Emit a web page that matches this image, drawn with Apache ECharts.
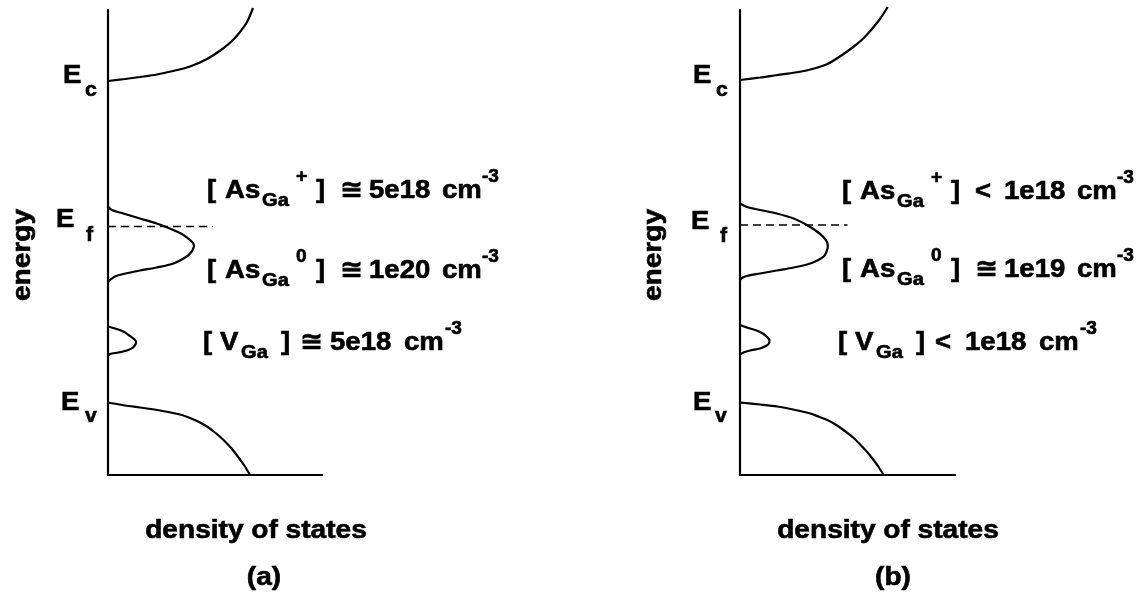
<!DOCTYPE html>
<html>
<head>
<meta charset="utf-8">
<script src="https://cdn.jsdelivr.net/npm/echarts@6/dist/echarts.min.js"></script>
<style>
html, body { margin: 0; padding: 0; background: #fff; }
#chart { width: 1144px; height: 603px; }
</style>
</head>
<body>
<div id="chart"></div>
<script>
// Density-of-states sketches for two GaAs samples, (a) and (b).
// Every curve is a list of [density, energy] pairs in arbitrary units.

const dosMax = 107;
const energyMax = 93;

// sample (a)
const conductionA = [[0, 78.8], [8.5, 79.2], [16, 79.6], [24.5, 80.1], [32.5, 80.8], [41, 81.7], [49.5, 83.2],
                     [57.5, 85.3], [62.5, 87], [66, 88.6], [69.5, 90.6], [72.5, 93.4]];
const asGaPeakA = [[0, 53.7], [1.9, 53], [7.7, 52.3], [16, 51.3], [24.4, 50.3], [32.7, 49], [37.7, 48], [41, 47],
                   [42.5, 46.4], [43, 45.8], [42.5, 45.2], [41.9, 44.7], [39.4, 43.7], [32.7, 42.3], [24.4, 41.5],
                   [16, 40.9], [7.7, 40.2], [3.5, 39.7], [1, 39], [0, 38.5]];
const vGaPeakA = [[0, 29.7], [4.3, 29.2], [7.7, 28.7], [11, 27.8], [13.5, 27], [14, 26.6], [13.7, 26.1], [12.5, 25.5],
                  [10.2, 25], [5.2, 24.5], [1, 24.2], [0, 23.8]];
const valenceA = [[0, 14.5], [8.5, 13.9], [16, 13.5], [24.5, 13], [32.5, 12.4], [37, 12], [41, 11.4], [45.5, 10.6],
                  [49.5, 9.7], [53.5, 8.5], [57.5, 7.1], [62, 5.2], [66, 3.1], [68.5, 1.7], [71, 0]];
const fermiA = [[0, 49.7], [52.5, 49.7]];

// sample (b)
const conductionB = [[0, 79], [10, 79.5], [18.5, 80], [27.5, 80.5], [35, 81.1], [43.5, 82.2], [51.5, 84.2], [56, 85.5],
                     [60, 86.8], [63.5, 88.2], [66.5, 89.6], [70, 91.4], [73.5, 93.6]];
const asGaPeakB = [[0, 54.3], [3.5, 53.6], [10, 53], [18.3, 52.3], [26.7, 51.3], [33.3, 50], [38.3, 48.7], [41.5, 47.6],
                   [43.3, 46.6], [43.7, 45.6], [43, 44.6], [41.7, 43.7], [38.5, 42.9], [35, 42.3], [26.7, 41.5],
                   [18.3, 40.9], [10, 40.3], [3.3, 39.8], [1, 39.4], [0, 39]];
const vGaPeakB = [[0, 30], [5, 29.3], [8.3, 28.9], [11.7, 28.2], [14.2, 27.3], [14.7, 26.8], [14.2, 26.2], [13.3, 25.9],
                  [10, 25.3], [5, 24.9], [1.7, 24.5], [0, 24.1]];
const valenceB = [[0, 14.5], [10, 14.1], [18.5, 13.7], [27.5, 13], [35, 12.3], [39, 11.7], [43.5, 11], [47.5, 10.1],
                  [51.5, 9], [56, 7.6], [60, 6], [63.5, 4.5], [66.5, 3], [69, 1.6], [71.5, 0]];
const fermiB = [[0, 50], [53.5, 50]];

// defect concentrations (cm^-3): AsGa+, AsGa0, VGa
const concA = ['5e18', '1e20', '5e18'];
const relA = ['\u2245', '\u2245', '\u2245'];
const concB = ['1e18', '1e19', '1e18'];
const relB = ['<', '\u2245', '<'];

const panelTags = ['(a)', '(b)'];
const axisNames = ['energy', 'density of states'];
const levelNames = ['c', 'f', 'v'];

const FONT = "'Liberation Sans', 'DejaVu Sans', Arial, sans-serif";

function txt(s, x, baseline, size, opt) {
  opt = opt || {};
  return {
    type: 'text',
    x: x,
    y: baseline - 0.35 * size,
    scaleX: opt.sx || 1.06,
    silent: true,
    style: {
      text: s,
      font: 'bold ' + size + 'px ' + FONT,
      fill: '#000',
      stroke: '#000',
      lineWidth: 0.6,
      align: opt.align || 'left',
      textAlign: opt.align || 'left',
      verticalAlign: 'middle',
      textVerticalAlign: 'middle'
    }
  };
}

// rotated (bottom-to-top) text; the baseline runs vertically at x = baseX
function vtxt(s, baseX, centerY, size) {
  return {
    type: 'text',
    x: baseX - 0.35 * size,
    y: centerY,
    rotation: Math.PI / 2,
    scaleX: 1.08,
    silent: true,
    style: {
      text: s,
      font: 'bold ' + size + 'px ' + FONT,
      fill: '#000',
      stroke: '#000',
      lineWidth: 0.6,
      align: 'center',
      textAlign: 'center',
      verticalAlign: 'middle',
      textVerticalAlign: 'middle'
    }
  };
}

const KIND = { m: [26, 0], s: [19, 7], p: [18, -17] };

function compound(x0, base, parts) {
  return parts.map(function (p) {
    const k = KIND[p[1]];
    return txt(p[0], x0 + p[2], base + k[1], k[0]);
  });
}

function asLabel(x0, base, charge, rel, val) {
  return compound(x0, base, [
    ['[', 'm', 0], ['As', 'm', 18], ['Ga', 's', 55], [charge, 'p', 89], [']', 'm', 109],
    [rel, 'm', 133], [val, 'm', 162], ['cm', 'm', 235], ['-3', 'p', 275]
  ]);
}

function vLabel(x0, base, rel, val) {
  return compound(x0, base, [
    ['[', 'm', 0], ['V', 'm', 17], ['Ga', 's', 38], [']', 'm', 78],
    [rel, 'm', 97], [val, 'm', 127], ['cm', 'm', 201], ['-3', 'p', 242]
  ]);
}

function level(xE, baseE, xSub, baseSub, sub) {
  return [txt('E', xE, baseE, 26), txt(sub, xSub, baseSub, 20)];
}

let graphics = [];
// panel (a)
graphics = graphics.concat(
  level(63, 85, 85, 97, levelNames[0]),
  level(56, 229, 86, 242, levelNames[1]),
  level(61, 412, 85, 423, levelNames[2]),
  asLabel(207, 200, '+', relA[0], concA[0]),
  asLabel(207, 280, '0', relA[1], concA[1]),
  vLabel(203, 352, relA[2], concA[2]),
  [vtxt(axisNames[0], 32, 255, 26),
   txt(axisNames[1], 256, 540, 26, { align: 'center', sx: 1.08 }),
   txt(panelTags[0], 264, 587, 26, { align: 'center', sx: 1.08 })]
);
// panel (b)
graphics = graphics.concat(
  level(693, 85, 716, 97, levelNames[0]),
  level(691, 231, 720, 243, levelNames[1]),
  level(693, 412, 715, 423, levelNames[2]),
  asLabel(842, 201, '+', relB[0], concB[0]),
  asLabel(842, 279, '0', relB[1], concB[1]),
  vLabel(838, 352, relB[2], concB[2]),
  [vtxt(axisNames[0], 663, 255, 26),
   txt(axisNames[1], 888, 540, 26, { align: 'center', sx: 1.08 }),
   txt(panelTags[1], 893, 587, 26, { align: 'center', sx: 1.08 })]
);

function axisPair(i) {
  const line = { show: true, onZero: true, lineStyle: { color: '#000', width: 2.2 } };
  return {
    x: { type: 'value', gridIndex: i, min: 0, max: dosMax, axisLine: line, axisTick: { show: false }, axisLabel: { show: false }, splitLine: { show: false } },
    y: { type: 'value', gridIndex: i, min: 0, max: energyMax, axisLine: line, axisTick: { show: false }, axisLabel: { show: false }, splitLine: { show: false } }
  };
}

function curve(i, data) {
  return {
    type: 'line', xAxisIndex: i, yAxisIndex: i, data: data,
    symbol: 'none', smooth: 0.3, clip: false,
    lineStyle: { color: '#000', width: 2.2 }
  };
}

function dashed(i, data) {
  return {
    type: 'line', xAxisIndex: i, yAxisIndex: i, data: data,
    symbol: 'none', clip: false,
    lineStyle: { color: '#000', width: 1.6, type: [8, 5] }
  };
}

const a0 = axisPair(0), a1 = axisPair(1);

const chart = echarts.init(document.getElementById('chart'), null, { renderer: 'canvas' });
chart.setOption({
  animation: false,
  backgroundColor: '#fff',
  grid: [
    { left: 108, top: 10, width: 214, height: 465 },
    { left: 740, top: 10, width: 215, height: 465 }
  ],
  xAxis: [a0.x, a1.x],
  yAxis: [a0.y, a1.y],
  series: [
    curve(0, conductionA), curve(0, asGaPeakA), curve(0, vGaPeakA), curve(0, valenceA), dashed(0, fermiA),
    curve(1, conductionB), curve(1, asGaPeakB), curve(1, vGaPeakB), curve(1, valenceB), dashed(1, fermiB)
  ],
  graphic: graphics
});
</script>
</body>
</html>
